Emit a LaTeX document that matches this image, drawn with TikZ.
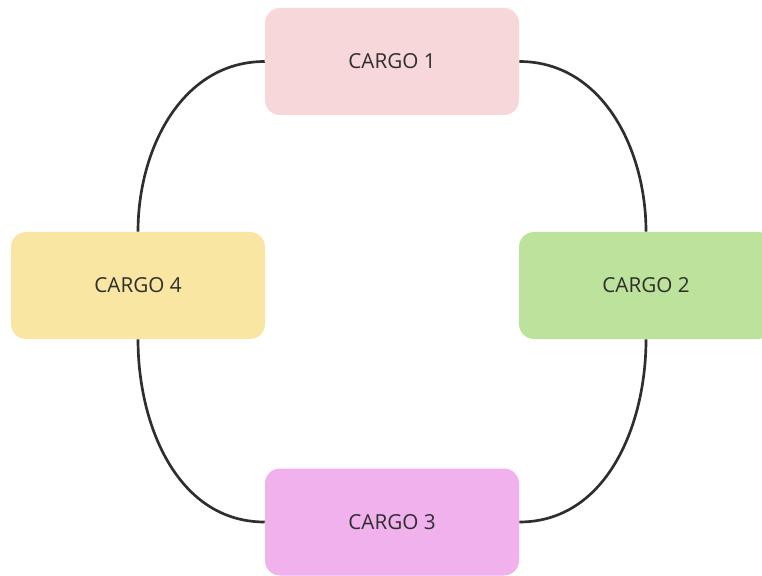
\documentclass[tikz,border=0pt]{standalone}
\usepackage{fontspec}
\setmainfont{Open Sans}
\definecolor{cargopink}{HTML}{F7D7DA}
\definecolor{cargogreen}{HTML}{BDE29B}
\definecolor{cargoviolet}{HTML}{F0B1EC}
\definecolor{cargoyellow}{HTML}{F9E6A2}
\definecolor{inkgray}{HTML}{2E2E2E}

\begin{document}
\begin{tikzpicture}[x=0.75pt,y=0.75pt,
  cargo/.style={rounded corners=11.25pt,minimum width=190.5pt,minimum height=80.25pt,
    inner sep=0pt,text=inkgray,font=\fontsize{15.5}{18}\selectfont},
  link/.style={line width=2pt,draw=inkgray}]
  \useasboundingbox (0,0) rectangle (762,575);

  \coordinate (p1) at (392,513.5);
  \coordinate (p2) at (646,289.5);
  \coordinate (p3) at (392,53);
  \coordinate (p4) at (138,289.5);

  \node[cargo,fill=cargopink] (c1) at (p1) {CARGO 1};
  \node[cargo,fill=cargogreen] (c2) at (p2) {CARGO 2};
  \node[cargo,fill=cargoviolet] (c3) at (p3) {CARGO 3};
  \node[cargo,fill=cargoyellow] (c4) at (p4) {CARGO 4};

  \draw[link] (c1.east) to[out=0,in=90] (c2.north);
  \draw[link] (c2.south) to[out=-90,in=0] (c3.east);
  \draw[link] (c3.west) to[out=180,in=-90] (c4.south);
  \draw[link] (c4.north) to[out=90,in=180] (c1.west);
\end{tikzpicture}
\end{document}
